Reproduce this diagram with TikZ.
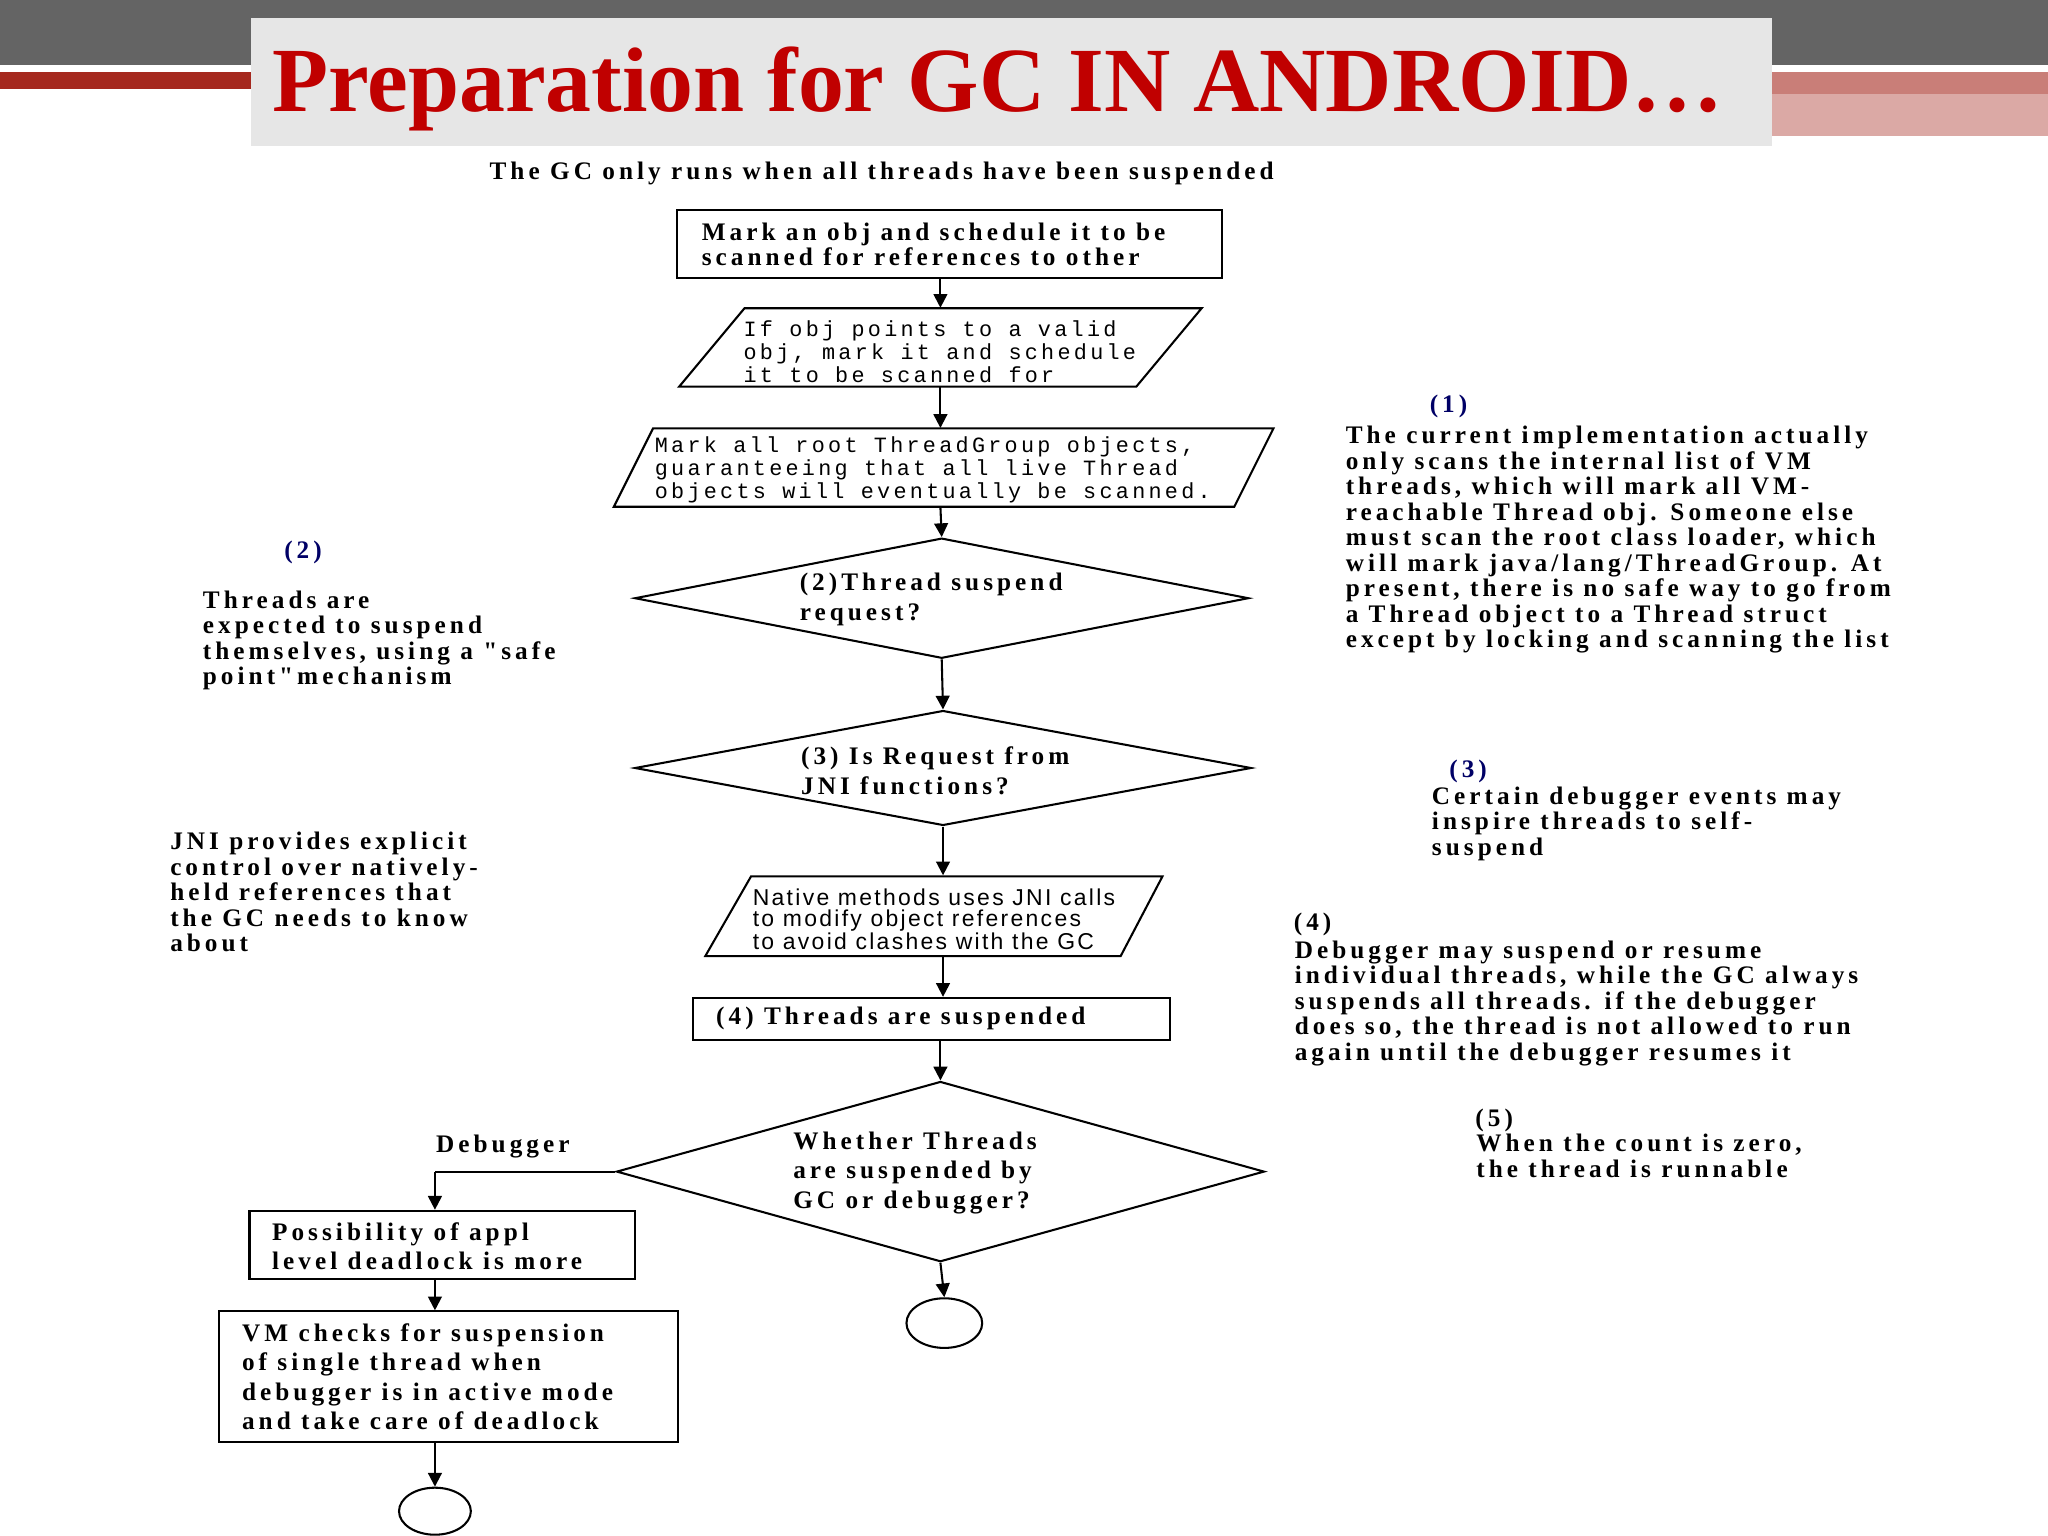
\documentclass[tikz,border=0pt]{standalone}
\usepackage{fontspec}
\setmainfont{Liberation Serif}
\setmonofont{Liberation Mono}
\setsansfont{Liberation Sans}
\newfontfamily\wideser[LetterSpace=16]{Liberation Serif}
\newfontfamily\widemono[LetterSpace=15]{Liberation Mono}
\newfontfamily\widesans[LetterSpace=10]{Liberation Sans}
\usetikzlibrary{shapes.geometric,arrows.meta}
\definecolor{tred}{RGB}{192,0,0}
\definecolor{band}{RGB}{100,100,100}
\definecolor{stripe}{RGB}{165,40,30}
\definecolor{boxgray}{RGB}{230,230,230}
\begin{document}
\begin{tikzpicture}[x=0.02cm,y=-0.02cm,
  ln/.style={line width=0.9pt},
  arr/.style={ln,-{Triangle[length=6pt,width=6pt]}},
  txt/.style={font=\wideser\fontsize{11}{11.1}\selectfont\bfseries,align=left,inner sep=0},
  big/.style={txt,font=\wideser\fontsize{11}{#1}\selectfont\bfseries},
  mono/.style={font=\widemono\fontsize{9.5}{10}\selectfont,align=left,inner sep=0},
  dia/.style={draw,ln,diamond,inner sep=0}]
\useasboundingbox (0,0) rectangle (1568,1176);
\fill[white] (0,0) rectangle (1568,1176);
% header
\fill[band] (0,0) rectangle (1568,50);
\fill[stripe] (0,55) rectangle (192,68);
\fill[stripe!60!white] (1357,55) rectangle (1568,72);
\fill[stripe!40!white] (1357,72) rectangle (1568,104);
\node[fill=boxgray,minimum width=1165*0.02cm,minimum height=98*0.02cm,inner sep=0] (title) at (774.5,63) {};
\node[anchor=west,text=tred,font=\fontsize{40}{44}\selectfont\bfseries,inner sep=0] (tt) at (208,68) {Preparation for GC IN ANDROID…};
\node[txt] (cap) at (675,133) {The GC only runs when all threads have been suspended};
% flow
\node[draw,ln,minimum width=417*0.02cm,minimum height=52*0.02cm,inner sep=0] (b1) at (727,187) {};
\node[txt,anchor=west] at (537,187) {Mark an obj and schedule it to be\\scanned for references to other};
\node[minimum width=400*0.02cm,minimum height=60*0.02cm,inner sep=0] (b2) at (720,266) {};
\draw[ln] (570,236) -- (920,236) -- (870,296) -- (520,296) -- cycle;
\node[mono,anchor=west] at (569,269) {If obj points to a valid\\obj, mark it and schedule\\it to be scanned for};
\node[minimum width=505*0.02cm,minimum height=60*0.02cm,inner sep=0] (b3) at (722,358) {};
\draw[ln] (500,328) -- (975,328) -- (945,388) -- (470,388) -- cycle;
\node[mono,anchor=west] at (501,360) {Mark all root ThreadGroup objects,\\guaranteeing that all live Thread\\objects will eventually be scanned.};
\node[dia,minimum width=470*0.02cm,minimum height=92*0.02cm,aspect=5] (d1) at (721,458) {};
\node[big=13,anchor=west] at (612,459) {(2)Thread suspend\\request?};
\node[dia,minimum width=472*0.02cm,minimum height=88*0.02cm,aspect=5.4] (d2) at (722,588) {};
\node[big=13,anchor=west] at (613,590) {(3) Is Request from\\JNI functions?};
\node[minimum width=350*0.02cm,minimum height=61*0.02cm,inner sep=0] (b4) at (715,701) {};
\draw[ln] (575,671) -- (890,671) -- (858,732) -- (540,732) -- cycle;
\node[anchor=west,font=\widesans\fontsize{10}{9}\selectfont,align=left,inner sep=0] at (576,704) {Native methods uses JNI calls\\to modify object references\\to avoid clashes with the GC};
\node[draw,ln,minimum width=365*0.02cm,minimum height=32*0.02cm,inner sep=0] (b5) at (713,780) {};
\node[txt,anchor=west] at (548,780) {(4) Threads are suspended};
\node[dia,minimum width=496*0.02cm,minimum height=138*0.02cm,aspect=3.6] (d3) at (720,897) {};
\node[big=13,anchor=west] at (607,898) {Whether Threads\\are suspended by\\GC or debugger?};
\node[draw,ln,ellipse,minimum width=58*0.02cm,minimum height=38*0.02cm] (e1) at (723,1013) {};
\node[txt] (dbg) at (385,878) {Debugger};
\coordinate (c1) at (333,897);
\node[draw,ln,minimum width=295*0.02cm,minimum height=52*0.02cm,inner sep=0] (b6) at (338.5,953) {};
\node[big=12.5,anchor=west] at (208,954) {Possibility of appl\\level deadlock is more};
\node[draw,ln,minimum width=351*0.02cm,minimum height=100*0.02cm,inner sep=0] (b7) at (343.5,1054) {};
\node[big=12.7,anchor=west] at (185,1054) {VM checks for suspension\\of single thread when\\debugger is in active mode\\and take care of deadlock};
\node[draw,ln,ellipse,minimum width=55*0.02cm,minimum height=36*0.02cm] (e2) at (333,1157) {};
% arrows
\draw[arr] (b1.south -| 720,0) -- (b2.north -| 720,0);
\draw[arr] (b2.south -| 720,0) -- (b3.north -| 720,0);
\draw[arr] (b3.south -| 720,0) -- (d1.north);
\draw[arr] (d1.south) -- (d2.north);
\draw[arr] (d2.south) -- (b4.north -| 722,0);
\draw[arr] (b4.south -| 722,0) -- (b5.north -| 722,0);
\draw[arr] (b5.south -| 720,0) -- (d3.north);
\draw[arr] (d3.south) -- (e1.north);
\draw[ln] (d3.west) -- (c1);
\draw[arr] (c1) -- (b6.north -| c1);
\draw[arr] (b6.south -| c1) -- (b7.north -| c1);
\draw[arr] (b7.south -| c1) -- (e2.north);
% notes
\node[txt,text=blue!40!black] at (1109,311) {(1)};
\node[txt,anchor=north west] at (1030,326) {The current implementation actually\\only scans the internal list of VM\\threads, which will mark all VM-\\reachable Thread obj. Someone else\\must scan the root class loader, which\\will mark java/lang/ThreadGroup. At\\present, there is no safe way to go from\\a Thread object to a Thread struct\\except by locking and scanning the list};
\node[txt,text=blue!40!black] at (232,423) {(2)};
\node[txt,anchor=north west] at (155,452) {Threads are\\expected to suspend\\themselves, using a "safe\\point"mechanism};
\node[txt,text=blue!40!black] at (1124,591) {(3)};
\node[txt,anchor=north west] at (1096,602) {Certain debugger events may\\inspire threads to self-\\suspend};
\node[txt,anchor=north west] at (130,637) {JNI provides explicit\\control over natively-\\held references that\\the GC needs to know\\about};
\node[txt] at (1005,708) {(4)};
\node[txt,anchor=north west] at (991,720) {Debugger may suspend or resume\\individual threads, while the GC always\\suspends all threads. if the debugger\\does so, the thread is not allowed to run\\again until the debugger resumes it};
\node[txt] at (1144,858) {(5)};
\node[txt,anchor=north west] at (1130,868) {When the count is zero,\\the thread is runnable};
\end{tikzpicture}
\end{document}
